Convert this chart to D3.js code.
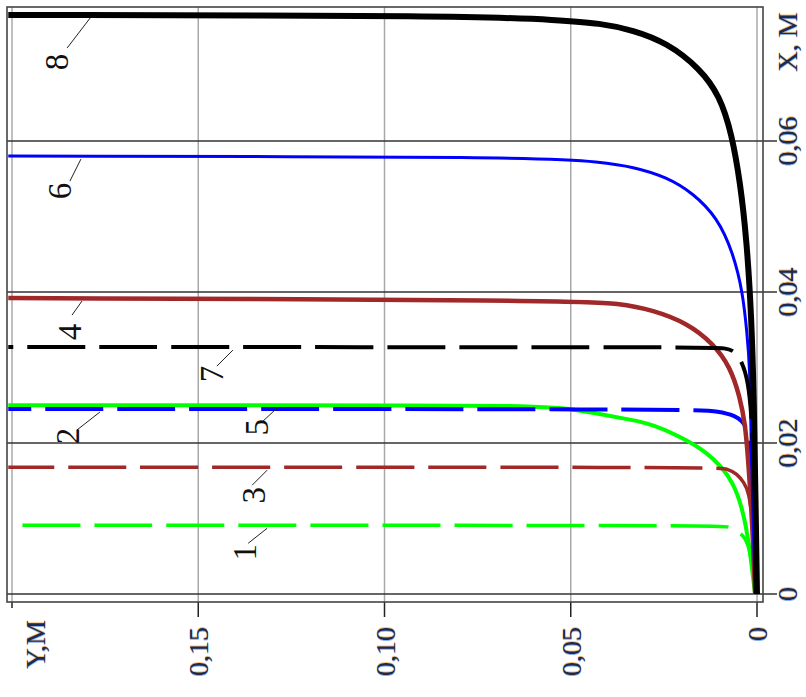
<!DOCTYPE html>
<html>
<head>
<meta charset="utf-8">
<script src="https://cdn.jsdelivr.net/npm/d3@7"></script>
<style>
  html, body { margin: 0; padding: 0; background: #fff; }
  svg { display: block; }
  .tick-label { font-family: "Liberation Serif", "Times New Roman", serif; font-size: 28px; fill: #1c2a4e;
                text-shadow: 1px 0 0 rgba(240,150,20,0.55), -1px 0 0 rgba(30,110,230,0.55); }
  .curve-label { font-family: "Liberation Serif", "Times New Roman", serif; font-size: 33px; fill: #111; }
</style>
</head>
<body>
<svg id="chart" width="806" height="697"></svg>
<script>
// Profiles: each point is [Y, X] in metres.
const curve1 = [[0.1972,0.0091],[0.0094,0.0091],[0.0078,0.0089],[0.0051,0.0083],[0.0032,0.0075],[0.0019,0.0058],[0.0011,0.0032],[0.0003,0]];
const curve2 = [[0.201,0.0245],[0.0180,0.0245],[0.0099,0.0242],[0.0059,0.0236],[0.0040,0.0229],[0.0027,0.0220],[0.0019,0.0197],[0.0011,0.0125],[0.0003,0]];
const curve3 = [[0.201,0.0168],[0.0113,0.0168],[0.0078,0.0166],[0.0054,0.0159],[0.0035,0.0148],[0.0021,0.0134],[0.0013,0.0098],[0.0005,0.0045],[0,0]];
const curve4 = [[0.201,0.0392],[0.0502,0.0389],[0.0368,0.0385],[0.0279,0.0376],[0.0188,0.0359],[0.0118,0.0332],[0.0072,0.0301],[0.0046,0.0261],[0.0032,0.0226],[0.0024,0.0181],[0.0013,0.0098],[0.0005,0]];
const curve5 = [[0.201,0.0250],[0.0743,0.0250],[0.0636,0.0249],[0.0521,0.0247],[0.0429,0.0239],[0.0341,0.0231],[0.0279,0.0225],[0.0188,0.0204],[0.0134,0.0187],[0.0094,0.0168],[0.0064,0.0147],[0.0040,0.0115],[0.0024,0.0075],[0.0013,0.0032],[0.0005,0]];
const curve6 = [[0.201,0.0580],[0.0582,0.0579],[0.0421,0.0572],[0.0333,0.0566],[0.0241,0.0552],[0.0172,0.0531],[0.0107,0.0499],[0.0064,0.0452],[0.0038,0.0399],[0.0027,0.0346],[0.0019,0.0301],[0.0016,0.0204],[0.0011,0.0111],[0.0005,0]];
const curve7 = [[0.201,0.0327],[0.0153,0.0327],[0.0080,0.0326],[0.0059,0.0321],[0.0040,0.0307],[0.0024,0.0283],[0.0013,0.0230],[0.0005,0.0125],[0,0]];
const curve8 = [[0.201,0.0767],[0.0770,0.0766],[0.0529,0.0760],[0.0421,0.0756],[0.0333,0.0747],[0.0241,0.0730],[0.0153,0.0696],[0.0100,0.0660],[0.0068,0.0610],[0.0045,0.0545],[0.0028,0.0470],[0.0015,0.0370],[0.0008,0.0250],[0.0004,0.0125],[0,0]];

const curveNames = ["1","2","3","4","5","6","7","8"];
const xTicks = [0, 0.02, 0.04, 0.06];
const xTickLabels = ["0", "0,02", "0,04", "0,06"];
const yTicks = [0, 0.05, 0.10, 0.15, 0.20];
const yTickLabels = ["0", "0,05", "0,10", "0,15"];
const xTitle = "X, M";
const yTitle = "Y,M";

// Where each numbered label's leader touches its curve (Y, metres)
const labelTouchY = [0.1315, 0.1764, 0.1315, 0.1812, 0.1289, 0.1815, 0.1407, 0.179];

// Styling (draw order matters: later ones sit on top)
const styles = {
  "5": { color: "#00ff00", width: 4,   dash: null },
  "2": { color: "#0000ff", width: 4,   dash: "58,14", offset: 35 },
  "1": { color: "#00ff00", width: 3.5, dash: "58,14", offset: 0 },
  "3": { color: "#a02828", width: 3.5, dash: "58,14", offset: 12 },
  "4": { color: "#a02828", width: 4.5, dash: null },
  "6": { color: "#0000ff", width: 3,   dash: null },
  "7": { color: "#000000", width: 4,   dash: "58,14", offset: 53 },
  "8": { color: "#000000", width: 6,   dash: null }
};
const drawOrder = ["5","2","1","3","4","6","7","8"];
// label centre / leader end offsets from touch point (px)
const labelLayout = {
  "1": { tx: -22, ty: 24, lx: -19, ly: 15 },
  "2": { tx: -32, ty: 24, lx: -23, ly: 18 },
  "3": { tx: -13, ty: 25, lx: -15, ly: 15 },
  "4": { tx: -12, ty: 31, lx: -10, ly: 14 },
  "5": { tx: -20, ty: 19, lx: -14, ly: 13 },
  "6": { tx: -21, ty: 32, lx: -11, ly: 22 },
  "7": { tx: -21, ty: 24, lx: -16, ly: 16 },
  "8": { tx: -33, ty: 44, lx: -23, ly: 30 }
};

const curves = { "1": curve1, "2": curve2, "3": curve3, "4": curve4,
                 "5": curve5, "6": curve6, "7": curve7, "8": curve8 };

const svg = d3.select("#chart");
const frame = { left: 7, right: 763, top: 7, bottom: 602 };

// Y runs along the page horizontally (right to left), X runs up the page
const yScale = d3.scaleLinear().domain([0, 0.2]).range([757, 12]);
const xScale = d3.scaleLinear().domain([0, 0.06]).range([594, 141]);

svg.append("defs").append("clipPath").attr("id", "plotclip")
  .append("rect")
  .attr("x", frame.left).attr("y", frame.top)
  .attr("width", frame.right - frame.left).attr("height", frame.bottom - frame.top);

// vertical grid (Y values) and ticks below the frame
const grid = svg.append("g");
grid.selectAll("line.vgrid").data(yTicks).join("line")
  .attr("class", "vgrid")
  .attr("x1", d => yScale(d)).attr("x2", d => yScale(d))
  .attr("y1", frame.top).attr("y2", frame.bottom)
  .attr("stroke", "#a8a8a8").attr("stroke-width", 1.5);
grid.selectAll("line.vtick").data(yTicks).join("line")
  .attr("class", "vtick")
  .attr("x1", d => yScale(d)).attr("x2", d => yScale(d))
  .attr("y1", frame.bottom).attr("y2", d => d === 0.2 ? frame.bottom + 6 : frame.bottom + 15)
  .attr("stroke", "#222").attr("stroke-width", 1.5);

// horizontal grid (X values), running past the right frame
grid.selectAll("line.hgrid").data(xTicks).join("line")
  .attr("class", "hgrid")
  .attr("x1", frame.left).attr("x2", frame.right + 14)
  .attr("y1", d => xScale(d)).attr("y2", d => xScale(d))
  .attr("stroke", "#333").attr("stroke-width", 1.6);

// frame
svg.append("rect")
  .attr("x", frame.left).attr("y", frame.top)
  .attr("width", frame.right - frame.left).attr("height", frame.bottom - frame.top)
  .attr("fill", "none").attr("stroke", "#444").attr("stroke-width", 1.6);

// curves
const line = d3.line()
  .x(d => yScale(d[0]))
  .y(d => xScale(d[1]))
  .curve(d3.curveBasis);

const plot = svg.append("g").attr("clip-path", "url(#plotclip)");
drawOrder.forEach(k => {
  const s = styles[k];
  const p = plot.append("path")
    .datum(curves[k])
    .attr("d", line)
    .attr("fill", "none")
    .attr("stroke", s.color)
    .attr("stroke-width", s.width)
    .attr("stroke-linejoin", "round");
  if (s.dash) p.attr("stroke-dasharray", s.dash).attr("stroke-dashoffset", s.offset);
});

// numbered labels with leader lines
const ann = svg.append("g");
curveNames.forEach((k, i) => {
  const px = yScale(labelTouchY[i]);
  const py = xScale(curves[k][0][1]) + 3;
  const L = labelLayout[k];
  ann.append("line")
    .attr("x1", px).attr("y1", py)
    .attr("x2", px + L.lx).attr("y2", py + L.ly)
    .attr("stroke", "#222").attr("stroke-width", 1);
  const cx = px + L.tx, cy = py + L.ty;
  ann.append("text")
    .attr("class", "curve-label")
    .attr("x", cx).attr("y", cy)
    .attr("text-anchor", "middle")
    .attr("dominant-baseline", "central")
    .attr("transform", `rotate(-90, ${cx}, ${cy})`)
    .text(k);
});

// X tick labels along the right edge
const axisText = svg.append("g");
const rightX = 797;
xTicks.forEach((v, i) => {
  const x = rightX, y = xScale(v);
  axisText.append("text")
    .attr("class", "tick-label")
    .attr("x", x).attr("y", y)
    .attr("text-anchor", "middle")
    .attr("transform", `rotate(-90, ${x}, ${y})`)
    .text(xTickLabels[i]);
});
axisText.append("text")
  .attr("class", "tick-label")
  .attr("x", rightX).attr("y", 42)
  .attr("text-anchor", "middle")
  .attr("transform", `rotate(-90, ${rightX}, 42)`)
  .text(xTitle);

// Y tick labels below the frame
yTickLabels.forEach((t, i) => {
  const x = yScale(yTicks[i]) + 10, y = 627;
  axisText.append("text")
    .attr("class", "tick-label")
    .attr("x", x).attr("y", y)
    .attr("text-anchor", "end")
    .attr("transform", `rotate(-90, ${x}, ${y})`)
    .text(t);
});
axisText.append("text")
  .attr("class", "tick-label")
  .attr("x", 45).attr("y", 620)
  .attr("text-anchor", "end")
  .attr("transform", "rotate(-90, 45, 620)")
  .text(yTitle);
</script>
</body>
</html>
